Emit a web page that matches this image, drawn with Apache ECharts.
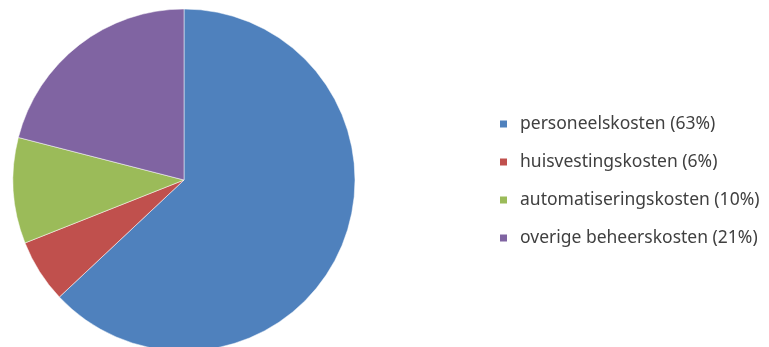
<!DOCTYPE html>
<html>
<head>
<meta charset="utf-8">
<script src="https://cdn.jsdelivr.net/npm/echarts@6/dist/echarts.min.js"></script>
<style>
  html, body { margin: 0; padding: 0; background: #fff; }
  #chart { width: 769px; height: 347px; }
</style>
</head>
<body>
<div id="chart"></div>
<script>
var categories = ['personeelskosten', 'huisvestingskosten', 'automatiseringskosten', 'overige beheerskosten'];
var values = [63, 6, 10, 21];
var colors = ['#4F81BD', '#C0504D', '#9BBB59', '#8064A2'];

var chart = echarts.init(document.getElementById('chart'));
var pieData = categories.map(function (name, i) {
    return { name: name, value: values[i], itemStyle: { color: colors[i] } };
});

var option = {
    animation: false,
    legend: {
        orient: 'vertical',
        left: 493,
        top: 110,
        itemWidth: 9,
        itemHeight: 9,
        itemGap: 20,
        icon: 'rect',
        data: categories,
        textStyle: {
            fontFamily: 'Noto Sans',
            fontSize: 17.5,
            color: '#404040',
            padding: [0, 0, 0, 7]
        },
        formatter: function (name) {
            var i = categories.indexOf(name);
            return name + ' (' + values[i] + '%)';
        }
    },
    series: [{
        type: 'pie',
        center: [184, 180],
        radius: 171,
        startAngle: 90,
        clockwise: true,
        label: { show: false },
        labelLine: { show: false },
        itemStyle: { borderColor: '#ffffff', borderWidth: 0.5 },
        emphasis: { disabled: true },
        data: pieData
    }]
};
chart.setOption(option);
</script>
</body>
</html>
